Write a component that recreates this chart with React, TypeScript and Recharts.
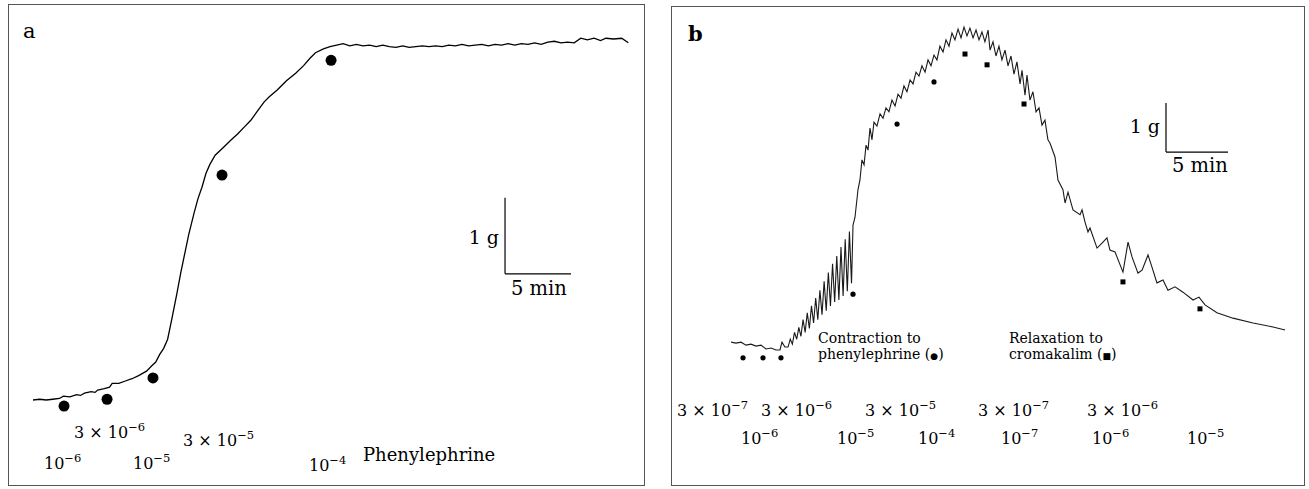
import { ComposedChart, Line, Scatter, XAxis, YAxis, ReferenceLine } from 'recharts';

// Tension traces. Time in min from start of trace, tension in g above the lowest baseline.
const TRACE_A: [number, number][] = [
  [0, 0], [0.5, 0.01], [1, 0], [1.5, 0.01], [2, 0.02], [2.3, 0.05], [2.8, 0.04], [3.3, 0.07], [3.6, 0.06],
  [3.9, 0.09], [4.4, 0.11], [4.7, 0.1], [4.9, 0.13], [5.4, 0.15], [5.8, 0.17], [6.0, 0.22], [6.5, 0.22],
  [7.0, 0.25], [7.5, 0.28], [8.0, 0.32], [8.6, 0.38], [9.0, 0.45], [9.3, 0.5], [9.6, 0.6], [9.9, 0.68],
  [10.2, 0.8], [10.5, 1.05], [10.9, 1.4], [11.2, 1.68], [11.5, 1.93], [11.8, 2.18], [12.2, 2.46],
  [12.5, 2.65], [12.8, 2.8], [13.1, 2.98], [13.4, 3.1], [13.8, 3.22], [14.4, 3.32], [15.0, 3.42],
  [15.5, 3.5], [16.0, 3.59], [16.5, 3.68], [17.0, 3.8], [17.5, 3.92], [17.9, 3.99], [18.5, 4.08],
  [19.2, 4.2], [19.9, 4.3], [20.5, 4.4], [21.0, 4.5], [21.4, 4.57], [22.0, 4.62], [22.5, 4.65],
  [23.0, 4.67], [23.5, 4.69], [24, 4.66], [24.5, 4.68], [25, 4.66], [25.5, 4.67], [26, 4.65], [26.5, 4.67],
  [27, 4.65], [27.5, 4.64], [28, 4.66], [28.5, 4.64], [29, 4.65], [29.5, 4.66], [30, 4.65], [30.5, 4.66],
  [31, 4.65], [31.5, 4.67], [32, 4.66], [32.5, 4.68], [33, 4.66], [33.5, 4.67], [34, 4.68], [34.5, 4.66],
  [35, 4.68], [35.5, 4.67], [36, 4.69], [36.5, 4.67], [37, 4.69], [37.5, 4.68], [38, 4.7], [38.5, 4.68],
  [39, 4.71], [39.5, 4.72], [40, 4.7], [40.5, 4.71], [41, 4.7], [41.5, 4.76], [42, 4.74], [42.5, 4.76],
  [43, 4.73], [43.4, 4.76], [44, 4.75], [44.6, 4.76], [45.1, 4.7],
];

// phenylephrine additions in panel a (time, mark height)
const PE_A: [number, number][] = [[2.35, -0.08], [5.61, 0.01], [9.09, 0.29], [14.32, 2.96], [22.58, 4.47]];

const TRACE_B: [number, number][] = [
  [0, 0.16], [0.4, 0.14], [0.81, 0.16], [1.21, 0.1], [1.61, 0.12], [2.02, 0.08], [2.42, 0.1], [2.82, 0.02],
  [3.23, 0.04], [3.63, 0], [3.95, 0], [4.11, 0.16], [4.35, 0.06],
  [4.6, 0.06], [4.78, 0.22], [4.95, 0.12], [5.12, 0.36], [5.3, 0.22], [5.47, 0.46], [5.64, 0.28],
  [5.81, 0.62], [5.98, 0.36], [6.15, 0.76], [6.32, 0.44], [6.49, 0.9], [6.66, 0.55], [6.83, 1.06],
  [7.0, 0.62], [7.17, 1.22], [7.34, 0.72], [7.51, 1.4], [7.68, 0.8], [7.85, 1.58], [8.02, 0.9],
  [8.19, 1.76], [8.36, 0.98], [8.53, 1.92], [8.7, 1.02], [8.87, 2.1], [9.04, 1.1], [9.21, 2.26],
  [9.38, 1.2], [9.55, 2.42], [9.72, 1.36], [9.84, 2.55],
  [10.0, 2.71], [10.24, 3.27], [10.4, 3.47], [10.56, 3.88], [10.73, 3.78], [10.89, 4.18], [11.05, 4.08],
  [11.21, 4.53], [11.37, 4.29], [11.53, 4.65], [11.77, 4.57], [12.02, 4.82], [12.26, 4.73], [12.5, 4.94],
  [12.74, 4.86], [12.98, 5.1], [13.23, 4.98], [13.47, 5.22], [13.71, 5.14], [13.95, 5.39], [14.19, 5.27],
  [14.44, 5.51], [14.68, 5.43], [14.92, 5.67], [15.16, 5.59], [15.4, 5.8], [15.65, 5.67], [15.89, 5.92],
  [16.13, 5.8], [16.37, 6.02], [16.61, 5.92], [16.85, 6.2], [17.1, 6.08], [17.34, 6.33], [17.58, 6.2],
  [17.82, 6.47], [18.06, 6.33], [18.31, 6.55], [18.55, 6.37], [18.79, 6.59], [19.03, 6.41], [19.27, 6.57],
  [19.52, 6.37], [19.76, 6.53], [20.0, 6.33], [20.24, 6.49], [20.48, 6.29], [20.73, 6.53], [20.89, 6.12],
  [21.13, 6.29], [21.37, 6.0], [21.61, 6.2], [21.85, 5.92], [22.1, 6.12], [22.34, 5.8], [22.58, 6.0],
  [22.82, 5.63], [23.06, 5.88], [23.31, 5.43], [23.47, 5.71], [23.71, 5.2], [23.87, 5.61], [24.11, 5.1],
  [24.35, 5.27], [24.6, 4.86], [24.84, 4.94], [25.08, 4.59], [25.32, 4.69], [25.56, 4.29], [25.73, 4.22],
  [26.13, 3.94], [26.37, 3.47], [26.77, 3.27], [26.94, 3.0], [27.18, 3.22], [27.58, 2.86], [28.15, 2.76],
  [28.31, 2.86], [28.55, 2.61], [28.79, 2.41], [28.95, 2.49], [29.52, 2.08], [29.92, 2.18], [30.32, 2.29],
  [30.56, 2.04], [30.97, 2.0], [31.61, 1.59], [32.02, 2.2], [32.34, 1.9], [32.82, 1.57], [33.15, 1.63],
  [33.63, 1.94], [33.95, 1.69], [34.35, 1.37], [34.84, 1.43], [35.24, 1.22], [35.81, 1.29], [36.45, 1.18],
  [37.26, 1.02], [37.74, 1.08], [38.23, 0.92], [39.19, 0.76], [40.48, 0.65], [42.1, 0.55], [43.71, 0.47],
  [44.68, 0.41],
];

const PE_B: [number, number][] = [[0.97, -0.16], [2.58, -0.16], [4.03, -0.16], [9.84, 1.14], [13.39, 4.61], [16.37, 5.47]];
const CRK_B: [number, number][] = [[18.87, 6.04], [20.65, 5.82], [23.63, 5.02], [31.61, 1.39], [37.82, 0.84]];

// dose labels (molar), as mantissa text + exponent
const DOSES_A = [
  { base: '3 × 10', exp: '−6' }, { base: '3 × 10', exp: '−5' },
  { base: '10', exp: '−6' }, { base: '10', exp: '−5' }, { base: '10', exp: '−4' },
];
const DOSES_B = [
  { base: '3 × 10', exp: '−7' }, { base: '3 × 10', exp: '−6' }, { base: '3 × 10', exp: '−5' },
  { base: '3 × 10', exp: '−7' }, { base: '3 × 10', exp: '−6' },
  { base: '10', exp: '−6' }, { base: '10', exp: '−5' }, { base: '10', exp: '−4' },
  { base: '10', exp: '−7' }, { base: '10', exp: '−6' }, { base: '10', exp: '−5' },
];

// where those labels sit on the page (baseline positions)
const POS_A = [[74, 438], [183, 446], [44, 469], [133, 469], [309, 471]];
const POS_B = [[677, 416], [761, 416], [865, 416], [978, 416], [1087, 416],
  [741, 444], [837, 444], [918, 444], [1001, 444], [1092, 444], [1187, 444]];

// scale bars: origin (min, g)
const BAR_A = { t: 35.76, g: 1.66 };
const BAR_B = { t: 35.08, g: 4.04 };

const FONT = "'DejaVu Serif', serif";
const toPts = (arr: [number, number][]) => arr.map(([t, g]) => ({ t, g }));

const Dot = (p: any) => <circle cx={p.cx} cy={p.cy} r={5.5} fill="#000" />;
const SmallDot = (p: any) => <circle cx={p.cx} cy={p.cy} r={2.6} fill="#000" />;
const Square = (p: any) => <rect x={p.cx - 2.5} y={p.cy - 2.5} width={5} height={5} fill="#000" />;

function DoseText({ x, y, base, exp, size = 16 }: any) {
  return (
    <text x={x} y={y} fontSize={size} fontFamily={FONT} fill="#000">
      {base}
      <tspan dy={-size * 0.42} fontSize={size * 0.72}>{exp}</tspan>
    </text>
  );
}

function ScaleBar({ t, g }: { t: number; g: number }) {
  return (
    <>
      <ReferenceLine segment={[{ x: t, y: g }, { x: t, y: g + 1 }]} stroke="#000" strokeWidth={1.2} />
      <ReferenceLine segment={[{ x: t, y: g }, { x: t + 5, y: g }]} stroke="#000" strokeWidth={1.2} />
    </>
  );
}

export default function App() {
  return (
    <div style={{ position: 'absolute', left: 0, top: 0, width: 1309, height: 489, background: '#fff' }}>
      <div style={{ position: 'absolute', left: 0, top: 0 }}>
        <ComposedChart width={660} height={489} margin={{ top: 20, right: 19.8, bottom: 13, left: 33 }}>
          <XAxis type="number" dataKey="t" domain={[0, 46]} allowDataOverflow hide />
          <YAxis type="number" dataKey="g" domain={[-1, 5]} allowDataOverflow hide />
          <Line data={toPts(TRACE_A)} dataKey="g" type="linear" stroke="#000" strokeWidth={1.3} dot={false} isAnimationActive={false} />
          <Scatter data={toPts(PE_A)} dataKey="g" shape={Dot} isAnimationActive={false} />
          {ScaleBar(BAR_A)}
        </ComposedChart>
      </div>
      <div style={{ position: 'absolute', left: 660, top: 0 }}>
        <ComposedChart width={649} height={489} margin={{ top: 7, right: 7.6, bottom: 90, left: 71 }}>
          <XAxis type="number" dataKey="t" domain={[0, 46]} allowDataOverflow hide />
          <YAxis type="number" dataKey="g" domain={[-1, 7]} allowDataOverflow hide />
          <Line data={toPts(TRACE_B)} dataKey="g" type="linear" stroke="#1a1a1a" strokeWidth={1.1} dot={false} isAnimationActive={false} />
          <Scatter data={toPts(PE_B)} dataKey="g" shape={SmallDot} isAnimationActive={false} />
          <Scatter data={toPts(CRK_B)} dataKey="g" shape={Square} isAnimationActive={false} />
          {ScaleBar(BAR_B)}
        </ComposedChart>
      </div>
      <svg width={1309} height={489} style={{ position: 'absolute', left: 0, top: 0, pointerEvents: 'none' }}>
        <rect x={8.5} y={4.5} width={636} height={481} fill="none" stroke="#555" strokeWidth={1} />
        <rect x={671.5} y={6.5} width={633} height={479} fill="none" stroke="#555" strokeWidth={1} />
        <text x={23} y={38} fontSize={21} fontFamily={FONT}>a</text>
        <text x={688} y={41} fontSize={21} fontWeight="bold" fontFamily={FONT}>b</text>
        {DOSES_A.map((d, i) => <DoseText key={i} x={POS_A[i][0]} y={POS_A[i][1]} base={d.base} exp={d.exp} />)}
        <text x={363} y={461} fontSize={18} fontFamily={FONT}>Phenylephrine</text>
        {DOSES_B.map((d, i) => <DoseText key={i} x={POS_B[i][0]} y={POS_B[i][1]} base={d.base} exp={d.exp} />)}
        <text x={499} y={244} fontSize={19} fontFamily={FONT} textAnchor="end">1 g</text>
        <text x={511} y={295} fontSize={19.5} fontFamily={FONT}>5 min</text>
        <text x={1160} y={133} fontSize={19} fontFamily={FONT} textAnchor="end">1 g</text>
        <text x={1172} y={172} fontSize={19.5} fontFamily={FONT}>5 min</text>
        <text x={818} y={343} fontSize={14} fontFamily={FONT}>Contraction to</text>
        <text x={818} y={359} fontSize={14} fontFamily={FONT}>phenylephrine (<tspan fontSize={9}>●</tspan>)</text>
        <text x={1009} y={343} fontSize={14} fontFamily={FONT}>Relaxation to</text>
        <text x={1009} y={359} fontSize={14} fontFamily={FONT}>cromakalim (<tspan fontSize={9}>■</tspan>)</text>
      </svg>
    </div>
  );
}
